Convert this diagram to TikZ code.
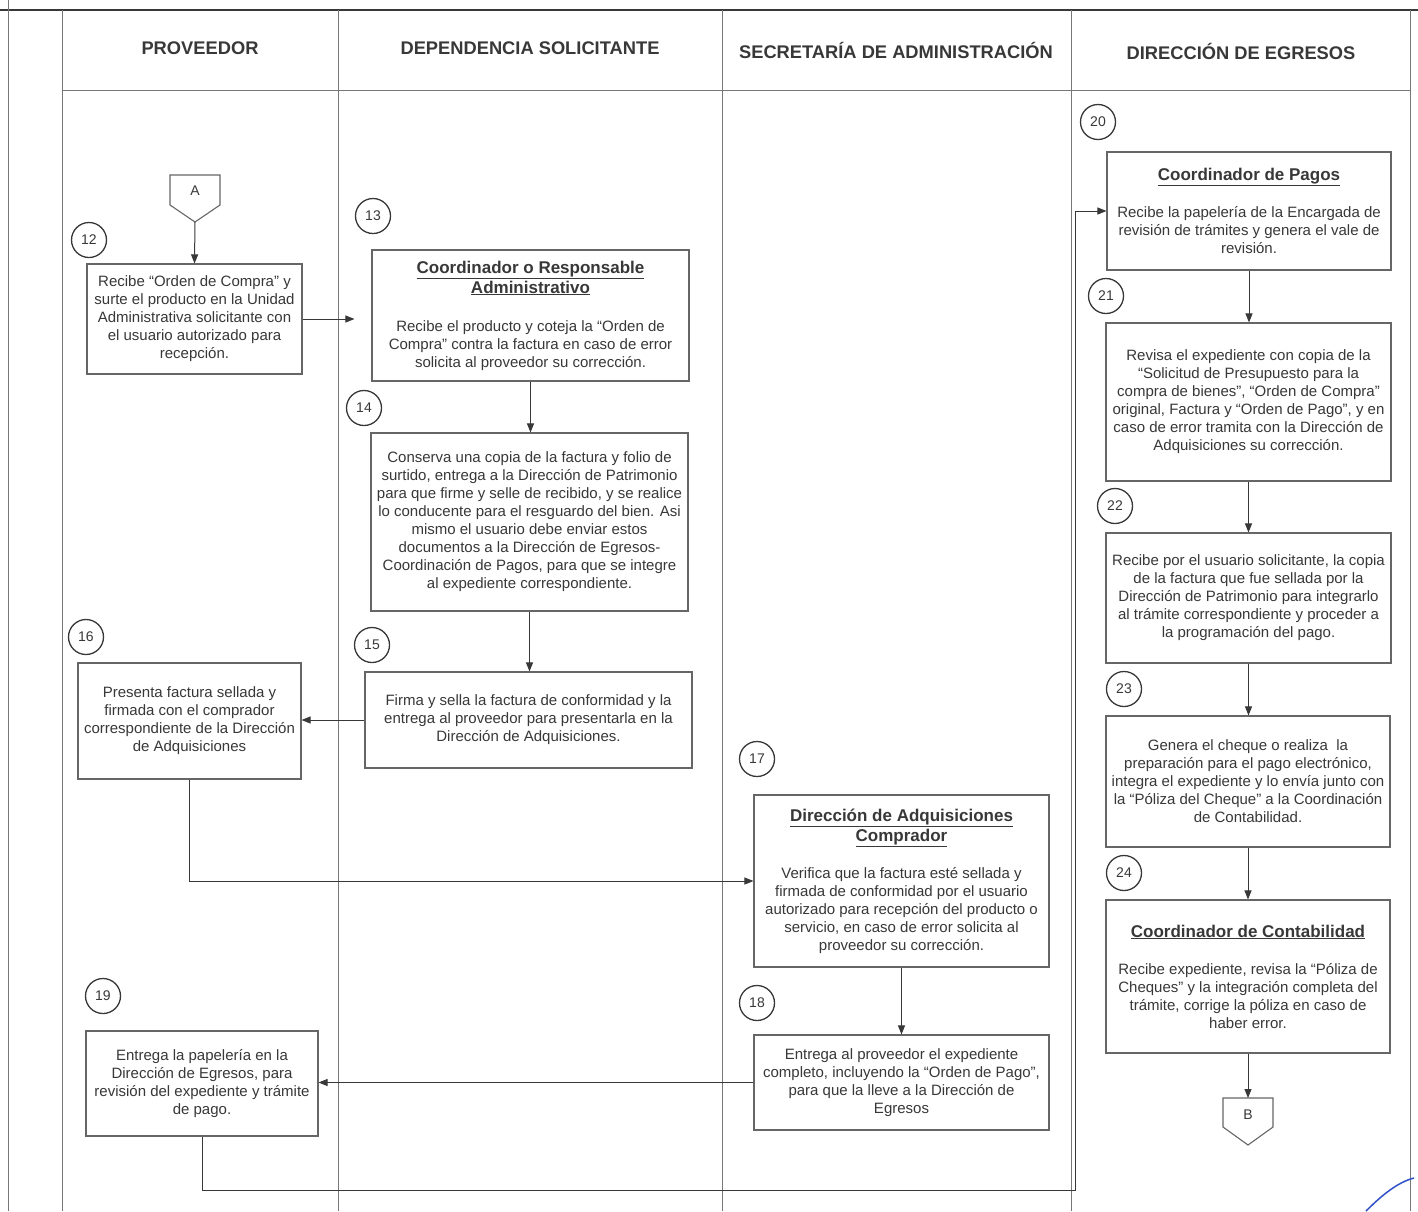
\documentclass[tikz,border=0pt]{standalone}
\usepackage{fontspec}
\setmainfont{Liberation Sans}
\usetikzlibrary{arrows.meta}
\definecolor{ink}{HTML}{383838}
\definecolor{frame}{HTML}{666666}
\definecolor{lane}{HTML}{777777}
\definecolor{pen}{HTML}{3050C8}
\newcommand{\ttl}[1]{{\fontsize{17}{20}\selectfont\bfseries\underline{#1}}}
\begin{document}
\begin{tikzpicture}[x=1pt,y=-1pt,
 stepbox/.style={draw=frame, line width=1.1pt, align=center, text=ink, font=\fontsize{15}{18}\selectfont, inner sep=2pt},
 numc/.style={circle, draw=ink, line width=1.3pt, minimum size=35pt, inner sep=0pt, text=ink, font=\fontsize{14}{16}\selectfont},
 hdr/.style={text=ink, font=\fontsize{18.3}{22}\selectfont\bfseries},
 flow/.style={draw=ink, line width=1pt, -{Triangle[length=9pt,width=7pt]}},
 lanel/.style={draw=lane, line width=1pt},
 conn/.style={draw=frame, line width=1.1pt}]
\fill[white] (0,0) rectangle (1418,1211);
\useasboundingbox (0,0) rectangle (1418,1211);
% frame and lanes
\draw[draw=ink, line width=1.8pt] (0,10) -- (1418,10);
\draw[lanel] (8,0) -- (8,1211);
\foreach \x in {62,338,722,1071,1410} \draw[lanel] (\x,10) -- (\x,1211);
\draw[lanel] (62,90) -- (1410,90);
% headers
\node[hdr] (h1) at (200,48) {PROVEEDOR};
\node[hdr] (h2) at (530,48) {DEPENDENCIA SOLICITANTE};
\node[hdr] (h3) at (896,50) {SECRETARÍA DE ADMINISTRACIÓN};
\node[hdr] (h4) at (1241,51) {DIRECCIÓN DE EGRESOS};
% connector A
\draw[conn] (170,175) -- (220,175) -- (220,205) -- (195,222) -- (170,205) -- cycle;
\node[text=ink, font=\fontsize{14}{16}\selectfont] (A) at (195,191) {A};
\coordinate (Atip) at (195,222);
% connector B
\draw[conn] (1223,1098) -- (1273,1098) -- (1273,1127) -- (1248,1145) -- (1223,1127) -- cycle;
\node[text=ink, font=\fontsize{14}{16}\selectfont] (B) at (1248,1115) {B};
\coordinate (Btop) at (1248,1098);
% number circles
\node[numc] (n12) at (89,240) {12};
\node[numc] (n13) at (373,216) {13};
\node[numc] (n14) at (364,408) {14};
\node[numc] (n15) at (372,645) {15};
\node[numc] (n16) at (86,637) {16};
\node[numc] (n17) at (757,759) {17};
\node[numc] (n18) at (757,1003) {18};
\node[numc] (n19) at (103,996) {19};
\node[numc] (n20) at (1098,122) {20};
\node[numc] (n21) at (1106,296) {21};
\node[numc] (n22) at (1115,506) {22};
\node[numc] (n23) at (1124,689) {23};
\node[numc] (n24) at (1124,873) {24};
% boxes
\node[stepbox, minimum width=215pt, minimum height=110pt] (b12) at (194.5,319) {Recibe “Orden de Compra” y\\surte el producto en la Unidad\\Administrativa solicitante con\\el usuario autorizado para\\recepción.};
\node[stepbox, minimum width=317pt, minimum height=131pt] (b13) at (530.5,315.5) {\ttl{Coordinador o Responsable}\\[2pt]\ttl{Administrativo}\\[20pt]Recibe el producto y coteja la “Orden de\\Compra” contra la factura en caso de error\\solicita al proveedor su corrección.};
\node[stepbox, minimum width=317pt, minimum height=178pt] (b14) at (529.5,522) {Conserva una copia de la factura y folio de\\surtido, entrega a la Dirección de Patrimonio\\para que firme y selle de recibido, y se realice\\lo conducente para el resguardo del bien. Asi\\mismo el usuario debe enviar estos\\documentos a la Dirección de Egresos-\\Coordinación de Pagos, para que se integre\\al expediente correspondiente.};
\node[stepbox, minimum width=327pt, minimum height=96pt] (b15) at (528.5,720) {Firma y sella la factura de conformidad y la\\entrega al proveedor para presentarla en la\\Dirección de Adquisiciones.};
\node[stepbox, minimum width=223pt, minimum height=116pt] (b16) at (189.5,721) {Presenta factura sellada y\\firmada con el comprador\\correspondiente de la Dirección\\de Adquisiciones};
\node[stepbox, minimum width=295pt, minimum height=172pt] (b17) at (901.5,881) {\ttl{Dirección de Adquisiciones}\\[2pt]\ttl{Comprador}\\[19pt]Verifica que la factura esté sellada y\\firmada de conformidad por el usuario\\autorizado para recepción del producto o\\servicio, en caso de error solicita al\\proveedor su corrección.};
\node[stepbox, minimum width=295pt, minimum height=95pt] (b18) at (901.5,1082.5) {Entrega al proveedor el expediente\\completo, incluyendo la “Orden de Pago”,\\para que la lleve a la Dirección de\\Egresos};
\node[stepbox, minimum width=232pt, minimum height=105pt] (b19) at (202,1083.5) {Entrega la papelería en la\\Dirección de Egresos, para\\revisión del expediente y trámite\\de pago.};
\node[stepbox, minimum width=284pt, minimum height=118pt] (b20) at (1249,211) {\ttl{Coordinador de Pagos}\\[19pt]Recibe la papelería de la Encargada de\\revisión de trámites y genera el vale de\\revisión.};
\node[stepbox, minimum width=285pt, minimum height=158pt] (b21) at (1248.5,402) {Revisa el expediente con copia de la\\“Solicitud de Presupuesto para la\\compra de bienes”, “Orden de Compra”\\original, Factura y “Orden de Pago”, y en\\caso de error tramita con la Dirección de\\Adquisiciones su corrección.};
\node[stepbox, minimum width=285pt, minimum height=130pt] (b22) at (1248.5,598) {Recibe por el usuario solicitante, la copia\\de la factura que fue sellada por la\\Dirección de Patrimonio para integrarlo\\al trámite correspondiente y proceder a\\la programación del pago.};
\node[stepbox, minimum width=284pt, minimum height=131pt] (b23) at (1248,781.5) {Genera el cheque o realiza\ \ la\\preparación para el pago electrónico,\\integra el expediente y lo envía junto con\\la “Póliza del Cheque” a la Coordinación\\de Contabilidad.};
\node[stepbox, minimum width=284pt, minimum height=153pt] (b24) at (1248,976.5) {\ttl{Coordinador de Contabilidad}\\[19pt]Recibe expediente, revisa la “Póliza de\\Cheques” y la integración completa del\\trámite, corrige la póliza en caso de\\haber error.};
% flows
\coordinate (c19) at (1075,1190);
\draw[flow] (Atip) -- (b12.north);
\draw[flow, shorten >=17pt] (b12.east) -- (b12.east -| b13.west);
\draw[flow] (b13.south) -- (b13.south |- b14.north);
\draw[flow] (b14.south) -- (b14.south |- b15.north);
\draw[flow] (b15.west) -- (b15.west -| b16.east);
\draw[flow] (b16.south) |- (b17.west);
\draw[flow] (b17.south) -- (b17.south |- b18.north);
\draw[flow] (b18.west) -- (b18.west -| b19.east);
\draw[flow] (b19.south) |- (c19) |- (b20.west);
\draw[flow] (b20.south) -- (b20.south |- b21.north);
\draw[flow] (b21.south) -- (b21.south |- b22.north);
\draw[flow] (b22.south) -- (b22.south |- b23.north);
\draw[flow] (b23.south) -- (b23.south |- b24.north);
\draw[flow] (b24.south) -- (Btop);
% pen stroke
\draw[pen, line width=1.5pt] (1366,1211) .. controls (1382,1195) and (1398,1182) .. (1414,1178);
\end{tikzpicture}
\end{document}
